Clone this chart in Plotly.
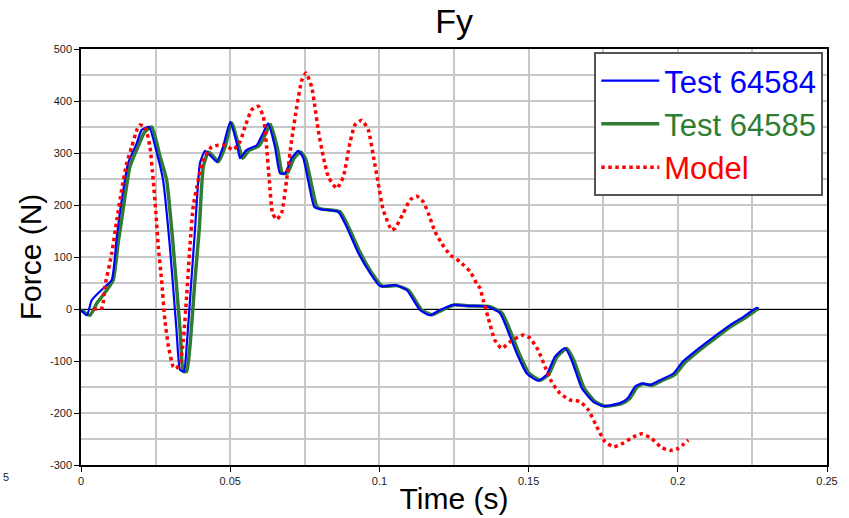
import plotly.graph_objects as go

# ---- data ----
t_64584 = [0, 0.002, 0.0036, 0.0075, 0.0103, 0.012, 0.013, 0.0158, 0.0187, 0.0203,
           0.0228, 0.0254, 0.0275, 0.0298, 0.032, 0.0332, 0.0345, 0.0354, 0.037, 0.0382,
           0.0399, 0.0416, 0.0432, 0.0455, 0.0476, 0.05, 0.0522, 0.0533, 0.0555, 0.0589,
           0.061, 0.0627, 0.065, 0.0667, 0.0684, 0.0706, 0.0728, 0.0745, 0.0762, 0.0782,
           0.08, 0.0862, 0.089, 0.0929, 0.0969, 0.1002, 0.1052, 0.1091, 0.1136, 0.117,
           0.1203, 0.1247, 0.1292, 0.136, 0.1404, 0.1438, 0.146, 0.1494, 0.1532, 0.156,
           0.1588, 0.1622, 0.1644, 0.1678, 0.1716, 0.175, 0.1806, 0.1833, 0.1857, 0.1879,
           0.1907, 0.194, 0.1985, 0.2017, 0.2063, 0.212, 0.2175, 0.222, 0.2264, 0.227]
f_64584 = [-2, -12, 17, 40, 56, 139, 184, 281, 319, 344,
           350, 300, 248, 119, -40, -117, -120, -73, 56, 152,
           281, 304, 296, 283, 312, 360, 319, 290, 306, 315,
           338, 357, 312, 261, 261, 290, 304, 290, 245, 196,
           192, 187, 158, 108, 69, 44, 46, 37, -2, -12,
           -2, 8, 6, 5, -8, -53, -85, -124, -138, -127,
           -92, -75, -98, -152, -178, -187, -181, -171, -149, -143,
           -146, -137, -124, -101, -79, -54, -31, -15, 2, 0]

t_64585 = [0, 0.003, 0.0053, 0.0086, 0.0108, 0.0125, 0.0136, 0.0164, 0.0191, 0.0213,
           0.0237, 0.0265, 0.0287, 0.0309, 0.0332, 0.0343, 0.0354, 0.0365, 0.0382, 0.0396,
           0.041, 0.0427, 0.0443, 0.046, 0.0483, 0.0505, 0.0527, 0.0542, 0.0563, 0.0597,
           0.0618, 0.0635, 0.0658, 0.0675, 0.0692, 0.0714, 0.0736, 0.0753, 0.0771, 0.0791,
           0.0808, 0.0868, 0.0897, 0.0936, 0.0976, 0.1009, 0.1058, 0.1098, 0.1142, 0.1176,
           0.121, 0.1253, 0.13, 0.1368, 0.1411, 0.1446, 0.1468, 0.1502, 0.1539, 0.1567,
           0.1595, 0.1628, 0.1651, 0.1686, 0.1723, 0.1757, 0.1812, 0.1839, 0.1864, 0.1885,
           0.1914, 0.1946, 0.199, 0.2024, 0.2069, 0.2126, 0.218, 0.2226, 0.2268, 0.2272]
f_64585 = [-2, -12, 11, 36, 56, 130, 171, 274, 312, 340,
           350, 293, 248, 120, -40, -120, -120, -72, 56, 152,
           274, 302, 294, 283, 312, 358, 317, 290, 305, 314,
           336, 355, 310, 261, 262, 290, 302, 288, 243, 196,
           192, 187, 157, 108, 68, 44, 45, 36, -2, -11,
           -2, 8, 6, 5, -8, -53, -85, -124, -137, -126,
           -92, -76, -98, -152, -178, -187, -182, -172, -150, -144,
           -147, -138, -126, -103, -81, -56, -33, -17, 0, 0]

t_model = [0.004, 0.007, 0.008, 0.0103, 0.012, 0.0136, 0.0153, 0.017, 0.0187, 0.0198,
           0.0215, 0.0231, 0.0242, 0.0251, 0.0259, 0.027, 0.0281, 0.0293, 0.0309, 0.0318,
           0.0332, 0.0343, 0.0354, 0.0365, 0.0376, 0.0393, 0.041, 0.0438, 0.046, 0.0483,
           0.051, 0.0533, 0.055, 0.0572, 0.0594, 0.0611, 0.0622, 0.0631, 0.0642, 0.0656,
           0.0672, 0.0689, 0.0706, 0.0723, 0.074, 0.0754, 0.0773, 0.0784, 0.0795, 0.0812,
           0.0829, 0.0857, 0.0879, 0.0901, 0.0918, 0.0941, 0.0963, 0.098, 0.0996, 0.1013,
           0.1041, 0.1052, 0.108, 0.1103, 0.1125, 0.1147, 0.1164, 0.1186, 0.1209, 0.1237,
           0.127, 0.1304, 0.1326, 0.1337, 0.1348, 0.1365, 0.1387, 0.141, 0.1438, 0.1482,
           0.1505, 0.1532, 0.1555, 0.1577, 0.1605, 0.1639, 0.1672, 0.17, 0.1728, 0.1756,
           0.1784, 0.1817, 0.1851, 0.1879, 0.1912, 0.1946, 0.1974, 0.2002, 0.2035]
f_model = [0, 2, 43, 107, 171, 229, 280, 312, 344, 354,
           350, 312, 248, 184, 120, 56, -21, -72, -111, -115,
           -104, -60, 24, 120, 197, 248, 287, 312, 315, 315,
           306, 322, 351, 383, 390, 370, 312, 248, 184, 172,
           184, 248, 325, 389, 440, 454, 427, 389, 344, 293,
           254, 232, 254, 319, 354, 363, 344, 293, 242, 190,
           152, 155, 184, 210, 217, 206, 184, 149, 126, 104,
           91, 72, 49, 40, 17, -18, -60, -76, -63, -50,
           -56, -79, -111, -140, -162, -175, -178, -194, -226, -255,
           -265, -258, -246, -240, -249, -267, -272, -268, -252]

x_ticks = [0, 0.05, 0.1, 0.15, 0.2, 0.25]
y_ticks = [-300, -200, -100, 0, 100, 200, 300, 400, 500]

BLUE = "#0000FF"
GREEN = "#2E7D32"
RED = "#FF0000"
FONT = "Arial, Liberation Sans, sans-serif"

fig = go.Figure()
fig.add_trace(go.Scatter(
    x=t_64585, y=f_64585, mode="lines", legendrank=2,
    name=f'<span style="color:{GREEN}">Test 64585</span>',
    line=dict(color=GREEN, width=3.5, shape="spline", smoothing=0.5)))
fig.add_trace(go.Scatter(
    x=t_64584, y=f_64584, mode="lines", legendrank=1,
    name=f'<span style="color:{BLUE}">Test 64584</span>',
    line=dict(color=BLUE, width=2.2, shape="spline", smoothing=0.5)))
fig.add_trace(go.Scatter(
    x=t_model, y=f_model, mode="lines", legendrank=3,
    name=f'<span style="color:{RED}">Model</span>',
    line=dict(color=RED, width=3.5, dash="3.5px,3.5px", shape="spline", smoothing=0.5)))

fig.update_layout(
    width=849, height=518,
    margin=dict(l=81, r=22, t=49, b=53, autoexpand=False),
    paper_bgcolor="white", plot_bgcolor="white",
    font=dict(family=FONT, color="#000"),
    title=dict(text="Fy", x=0.535, xanchor="center", y=1 - 21 / 518,
               yanchor="middle", font=dict(size=34, color="#000")),
    showlegend=True,
    legend=dict(x=0.995, xanchor="right", y=0.993, yanchor="top",
                bgcolor="white", bordercolor="#555", borderwidth=2,
                font=dict(size=31, family=FONT), tracegroupgap=0,
                itemwidth=58),
    xaxis=dict(
        range=[0, 0.25], tickvals=x_ticks, ticktext=[str(v) for v in x_ticks],
        showgrid=True, gridcolor="#C8C8C8", gridwidth=1.5,
        minor=dict(dtick=0.025, showgrid=True, gridcolor="#C8C8C8", gridwidth=1.5, ticks=""),
        ticks="outside", ticklen=5, tickcolor="#000", tickwidth=1,
        showline=True, linecolor="#000", linewidth=1.5, mirror=True,
        zeroline=False, automargin=False,
        tickfont=dict(size=11, color="#222"),
        title=dict(text="Time (s)", font=dict(size=30), standoff=2),
    ),
    yaxis=dict(
        range=[-300, 500], tickvals=y_ticks, ticktext=[str(v) for v in y_ticks],
        showgrid=True, gridcolor="#C8C8C8", gridwidth=1.5,
        minor=dict(dtick=50, showgrid=True, gridcolor="#C8C8C8", gridwidth=1.5, ticks=""),
        ticks="outside", ticklen=5, tickcolor="#000", tickwidth=1,
        showline=True, linecolor="#000", linewidth=1.5, mirror=True,
        zeroline=True, zerolinecolor="#000", zerolinewidth=1, automargin=False,
        tickfont=dict(size=11, color="#222"),
        title=dict(text="Force (N)", font=dict(size=30), standoff=0),
    ),
    annotations=[dict(text="5", xref="paper", yref="paper", x=-81 / 746 + 0.001,
                      y=-12 / 416, xanchor="left", yanchor="middle",
                      showarrow=False, font=dict(size=11, color="#222"))],
)

fig.write_html("out.html")
